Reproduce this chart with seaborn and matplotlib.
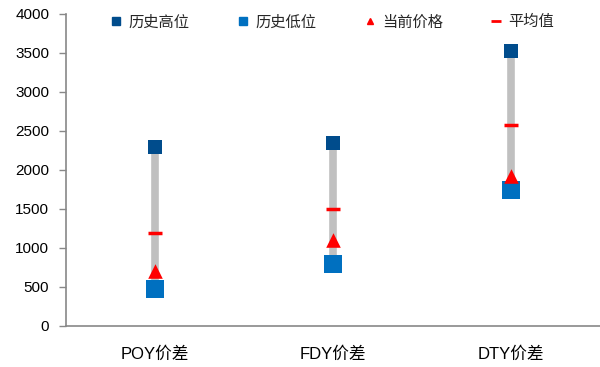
import matplotlib
matplotlib.use("Agg")
import matplotlib.pyplot as plt
from matplotlib.lines import Line2D
import seaborn as sns
import pandas as pd
import numpy as np

categories = ["POY价差", "FDY价差", "DTY价差"]
hist_high = [2300, 2350, 3520]
hist_low = [470, 800, 1740]
current = [700, 1100, 1920]
average = [1190, 1500, 2570]

series_names = ["历史高位", "历史低位", "当前价格", "平均值"]
y_ticks = [0, 500, 1000, 1500, 2000, 2500, 3000, 3500, 4000]

sns.set_theme(style="white")
plt.rcParams["font.family"] = ["Liberation Sans", "Noto Sans CJK SC", "DejaVu Sans"]

df = pd.DataFrame({
    "cat": categories,
    "x": np.arange(len(categories)),
    "high": hist_high,
    "low": hist_low,
    "cur": current,
    "avg": average,
})

fig = plt.figure(figsize=(6.0, 3.67), dpi=100)
ax = fig.add_axes([0.11, 0.112, 0.89, 0.85])

# high-low range bars
ax.vlines(df["x"], df["low"], df["high"], color="#c0c0c0", linewidth=5.5, zorder=1)

sns.scatterplot(data=df, x="x", y="high", marker="s", s=95, color="#004c8c",
                linewidth=0, ax=ax, zorder=3)
sns.scatterplot(data=df, x="x", y="low", marker="s", s=150, color="#0070c0",
                linewidth=0, ax=ax, zorder=3)
sns.scatterplot(data=df, x="x", y="cur", marker="^", s=110, color="#ff0000",
                linewidth=0, ax=ax, zorder=4)
sns.scatterplot(data=df, x="x", y="avg", marker="_", s=110, color="#ff0000",
                linewidth=2.5, ax=ax, zorder=4)

ax.set_xlim(-0.5, 2.5)
ax.set_ylim(0, 4000)
ax.set_yticks(y_ticks)
ax.set_yticklabels([str(v) for v in y_ticks], fontsize=11, color="#000000")
ax.set_xticks(df["x"])
ax.set_xticklabels(categories, fontsize=12, color="#000000")
ax.set_xticks([-0.5, 0.5, 1.5, 2.5], minor=True)
ax.tick_params(axis="x", which="major", length=0, pad=15)
ax.tick_params(axis="x", which="minor", length=5, width=1, color="#888888", direction="out")
ax.tick_params(axis="y", length=5, width=1, color="#888888", direction="out", pad=7,
               left=True)
ax.set_xlabel("")
ax.set_ylabel("")

for side in ["top", "right"]:
    ax.spines[side].set_visible(False)
for side in ["left", "bottom"]:
    ax.spines[side].set_color("#888888")
    ax.spines[side].set_linewidth(1.2)

handles = [
    Line2D([], [], marker="s", linestyle="none", color="#004c8c", markersize=6),
    Line2D([], [], marker="s", linestyle="none", color="#0070c0", markersize=6),
    Line2D([], [], marker="^", linestyle="none", color="#ff0000", markersize=5),
    Line2D([], [], marker="_", linestyle="none", color="#ff0000", markersize=7, markeredgewidth=2),
]
ax.legend(handles, series_names, loc="upper center", bbox_to_anchor=(0.497, 1.04),
          ncol=4, frameon=False, fontsize=11, handletextpad=0.3,
          columnspacing=3.0, handlelength=1.0)

fig.savefig("out.png", dpi=100)
